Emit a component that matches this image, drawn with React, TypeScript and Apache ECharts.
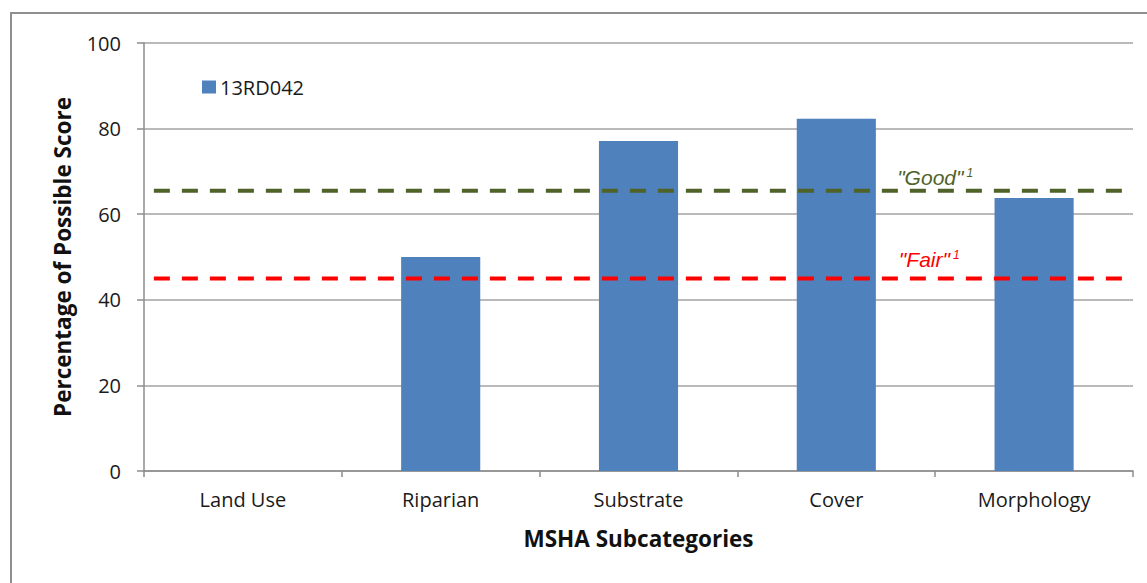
import React, { useEffect, useRef } from "react";
import * as echarts from "echarts";

const categories = ["Land Use", "Riparian", "Substrate", "Cover", "Morphology"];
const seriesName = "13RD042";
const scores = [0, 50, 77.1, 82.3, 63.8];
const goodValue = 65.5;
const fairValue = 45;
const lineSpan = [0.05, 4.95];
const goodLabelX = 4.0;
const fairLabelX = 3.97;

const FONT = "'Open Sans', 'Noto Sans', sans-serif";
const LABEL_FONT = "'Liberation Sans', Arial, sans-serif";

export default function App() {
  const ref = useRef<HTMLDivElement>(null);
  useEffect(() => {
    if (!ref.current) return;
    const chart = echarts.init(ref.current, null, { renderer: "svg" });
    chart.setOption({
      animation: false,
      backgroundColor: "#ffffff",
      textStyle: { fontFamily: FONT },
      grid: { left: 144, right: 14, top: 43, bottom: 112, containLabel: false },
      legend: {
        data: [{ name: seriesName, icon: "rect" }],
        left: 197,
        top: 72,
        itemWidth: 14,
        itemHeight: 13,
        itemGap: 5,
        textStyle: { fontFamily: FONT, fontSize: 20, color: "#1a1a1a", padding: [0, 0, 0, -1] },
      },
      graphic: [
        {
          type: "rect",
          shape: { x: 11, y: 13, width: 1300, height: 800 },
          style: { fill: "none", stroke: "#8f8f8f", lineWidth: 2 },
          silent: true,
        },
      ],
      xAxis: [
        {
          type: "category",
          data: categories,
          boundaryGap: true,
          axisLine: { show: true, lineStyle: { color: "#8c8c8c", width: 1.5 } },
          axisTick: { show: true, length: 6, alignWithLabel: false, lineStyle: { color: "#8c8c8c", width: 1.5 } },
          axisLabel: { fontFamily: FONT, fontSize: 20, color: "#1a1a1a", margin: 18 },
          name: "MSHA Subcategories",
          nameLocation: "middle",
          nameGap: 56,
          nameTextStyle: { fontFamily: FONT, fontSize: 22.5, fontWeight: "bold", color: "#111" },
        },
        {
          type: "value",
          min: 0,
          max: 5,
          show: false,
        },
      ],
      yAxis: {
        type: "value",
        min: 0,
        max: 100,
        interval: 20,
        axisLine: { show: true, lineStyle: { color: "#8c8c8c", width: 1.5 } },
        axisTick: { show: true, length: 7, lineStyle: { color: "#8c8c8c", width: 1.5 } },
        axisLabel: { fontFamily: FONT, fontSize: 20, color: "#1a1a1a", margin: 23 },
        splitLine: { show: true, lineStyle: { color: "#a3a3a3", width: 1.5 } },
        name: "Percentage of Possible Score",
        nameLocation: "middle",
        nameGap: 70,
        nameTextStyle: { fontFamily: FONT, fontSize: 22.5, fontWeight: "bold", color: "#111" },
      },
      series: [
        {
          name: seriesName,
          type: "bar",
          data: scores,
          barWidth: "40%",
          itemStyle: { color: "#4F81BD" },
          z: 2,
        },
        {
          name: "Good",
          type: "line",
          xAxisIndex: 1,
          data: [
            [lineSpan[0], goodValue],
            [lineSpan[1], goodValue],
          ],
          symbol: "none",
          lineStyle: { color: "#4F6228", width: 4, type: [16, 12], cap: "butt" },
          z: 3,
          markPoint: {
            symbol: "circle",
            symbolSize: 0,
            data: [{ coord: [goodLabelX, goodValue] }],
            label: {
              show: true,
              position: "top",
              distance: 3,
              formatter: '{a|"Good"} {b|1}',
              rich: {
                a: { fontFamily: LABEL_FONT, fontSize: 21, fontStyle: "italic", color: "#4F6228" },
                b: { fontFamily: LABEL_FONT, fontSize: 12, fontStyle: "italic", color: "#4F6228", verticalAlign: "top", padding: [0, 0, 8, 0] },
              },
            },
          },
        },
        {
          name: "Fair",
          type: "line",
          xAxisIndex: 1,
          data: [
            [lineSpan[0], fairValue],
            [lineSpan[1], fairValue],
          ],
          symbol: "none",
          lineStyle: { color: "#FF0000", width: 4, type: [16, 12], cap: "butt" },
          z: 3,
          markPoint: {
            symbol: "circle",
            symbolSize: 0,
            data: [{ coord: [fairLabelX, fairValue] }],
            label: {
              show: true,
              position: "top",
              distance: 8,
              formatter: '{a|"Fair"} {b|1}',
              rich: {
                a: { fontFamily: LABEL_FONT, fontSize: 21, fontStyle: "italic", color: "#FF0000" },
                b: { fontFamily: LABEL_FONT, fontSize: 12, fontStyle: "italic", color: "#FF0000", verticalAlign: "top", padding: [0, 0, 8, 0] },
              },
            },
          },
        },
      ],
    });
    return () => chart.dispose();
  }, []);
  return (
    <div
      ref={ref}
      style={{ position: "fixed", left: 0, top: 0, width: 1147, height: 583 }}
    />
  );
}
